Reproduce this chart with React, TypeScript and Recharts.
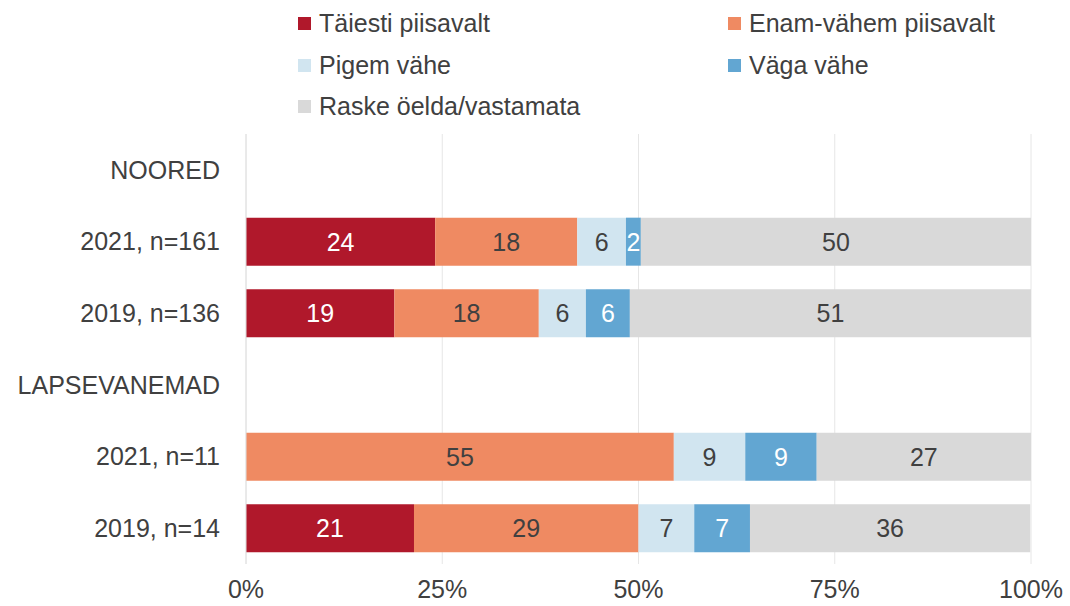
import React from "react"
import { BarChart, Bar, XAxis, YAxis, CartesianGrid, Legend, LabelList } from "recharts"

const categories = ["NOORED", "2021, n=161", "2019, n=136", "LAPSEVANEMAD", "2021, n=11", "2019, n=14"]
const taiesti = [null, 24.1, 18.9, null, 0, 21.4]
const enamVahem = [null, 18.1, 18.4, null, 54.5, 28.6]
const pigemVahe = [null, 6.2, 6.0, null, 9.1, 7.1]
const vagaVahe = [null, 1.9, 5.6, null, 9.1, 7.1]
const raske = [null, 49.7, 51.1, null, 27.3, 35.7]
const xTicks = [0, 25, 50, 75, 100]

const series = [
  { key: "taiesti", name: "Täiesti piisavalt", color: "#b0182b", text: "#ffffff", values: taiesti },
  { key: "enamVahem", name: "Enam-vähem piisavalt", color: "#ef8a62", text: "#404040", values: enamVahem },
  { key: "pigemVahe", name: "Pigem vähe", color: "#d1e5f0", text: "#404040", values: pigemVahe },
  { key: "vagaVahe", name: "Väga vähe", color: "#62a6d2", text: "#ffffff", values: vagaVahe },
  { key: "raske", name: "Raske öelda/vastamata", color: "#d9d9d9", text: "#404040", values: raske },
]

const data = categories.map((label, i) => {
  const row: Record<string, any> = { label }
  series.forEach((s) => {
    row[s.key] = s.values[i]
  })
  return row
})

const FONT = "'Liberation Sans', Arial, sans-serif"

// two columns, filled row by row like the original
const legendCols = [298, 728]
const legendRows = [11, 52.5, 94]

function LegendBox() {
  return (
    <div style={{ position: "relative", width: 1070, height: 126, fontFamily: FONT }}>
      {series.map((s, i) => (
        <div
          key={s.key}
          style={{
            position: "absolute",
            left: legendCols[i % 2],
            top: legendRows[Math.floor(i / 2)],
            height: 25,
            display: "flex",
            alignItems: "center",
            fontSize: 25,
            lineHeight: "25px",
            color: "#404040",
            whiteSpace: "nowrap",
          }}
        >
          <span style={{ width: 13, height: 13, background: s.color, marginRight: 8, display: "inline-block" }} />
          {s.name}
        </div>
      ))}
    </div>
  )
}

export default function App() {
  return (
    <div style={{ position: "absolute", top: 0, left: 0, width: 1070, height: 606, background: "#fff", fontFamily: FONT }}>
      <BarChart
        width={1070}
        height={606}
        data={data}
        layout="vertical"
        margin={{ top: 8, right: 39, bottom: 0, left: 0 }}
      >
        <CartesianGrid horizontal={false} stroke="#e6e6e6" />
        <XAxis
          type="number"
          domain={[0, 100]}
          ticks={xTicks}
          tickFormatter={(v) => `${v}%`}
          axisLine={false}
          tickLine={false}
          tickSize={0}
          tickMargin={16}
          height={42}
          tick={{ fontSize: 25, fill: "#404040" }}
        />
        <YAxis
          type="category"
          dataKey="label"
          width={246}
          axisLine={{ stroke: "#e0e0e0" }}
          tickLine={false}
          tickSize={0}
          tickMargin={26}
          tick={{ fontSize: 25, fill: "#404040" }}
        />
        <Legend verticalAlign="top" align="left" wrapperStyle={{ top: 0, left: 0, width: 1070 }} content={() => <LegendBox />} />
        {series.map((s) => (
          <Bar key={s.key} dataKey={s.key} name={s.name} stackId="a" fill={s.color} barSize={48} isAnimationActive={false}>
            <LabelList
              dataKey={s.key}
              position="center"
              fill={s.text}
              fontSize={25}
              formatter={(v: any) => (v ? Math.round(v) : "")}
            />
          </Bar>
        ))}
      </BarChart>
    </div>
  )
}
